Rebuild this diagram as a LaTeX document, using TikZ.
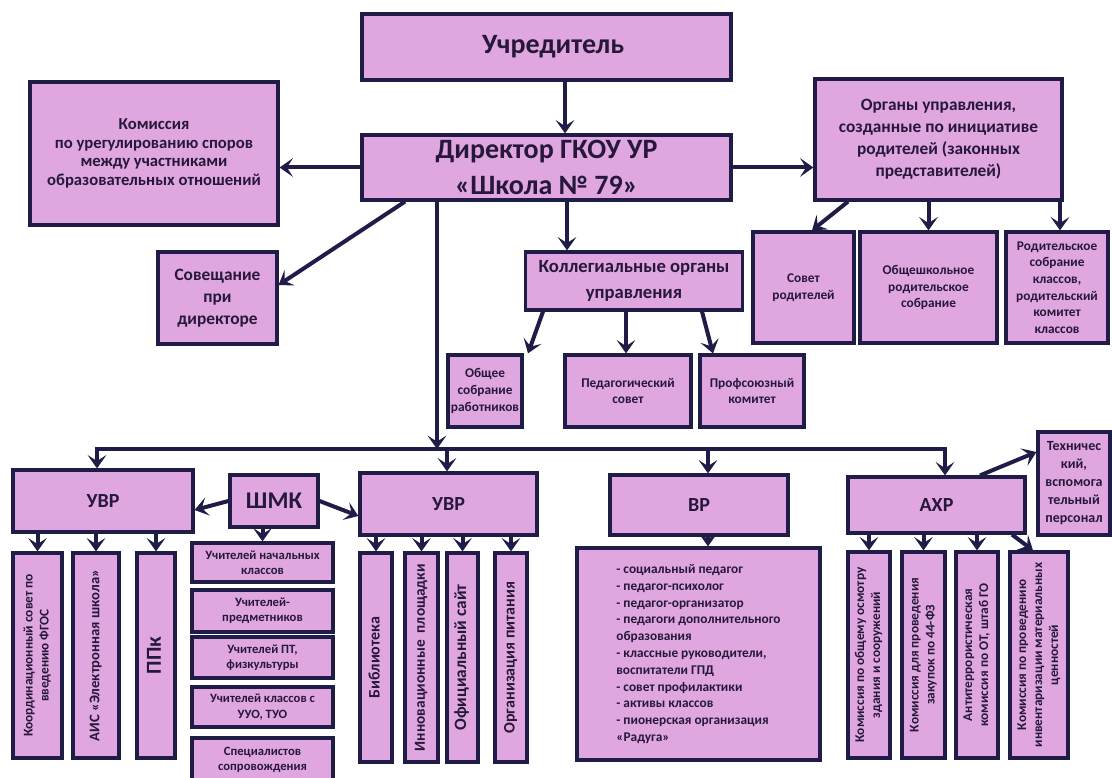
\documentclass[tikz,border=0pt]{standalone}
\usepackage{fontspec}
\setmainfont{Carlito}
\usepackage{tikz}
\usetikzlibrary{arrows.meta}
\definecolor{boxpink}{RGB}{224,166,224}
\definecolor{navy}{RGB}{32,28,72}
\definecolor{ink}{RGB}{38,24,58}

\newcommand{\fs}[2]{\fontsize{#1}{#2}\selectfont}
\newcommand{\vtext}[1]{\rotatebox{90}{\begin{tabular}{@{}c@{}}#1\end{tabular}}}

\tikzset{
  box/.style={draw=navy, fill=boxpink, line width=2.4pt, text=ink, align=center, inner sep=2pt},
  sz/.style 2 args={minimum width=#1*0.75pt, minimum height=#2*0.75pt},
  arr/.style={draw=navy, line width=3pt, -{Stealth[length=10pt,width=14pt,inset=4.5pt]}},
  txtbig/.style={font=\bfseries\fs{21}{27}},
  txthead/.style={font=\bfseries\fs{15}{19}},
  txtmid/.style={font=\bfseries\fs{13}{16.5}},
  txtsmall/.style={font=\bfseries\fs{10}{12.5}},
  txttiny/.style={font=\bfseries\fs{9.5}{11.5}},
  txtvert/.style={font=\bfseries\fs{10}{12}},
}

\begin{document}
\begin{tikzpicture}[x=0.75pt,y=-0.75pt]
  \fill[white] (0,0) rectangle (1112,777);
  \useasboundingbox (0,0) rectangle (1112,777);

  % top level
  \node[box, sz={369}{66}, txtbig] (uchr) at (546.5,47) {\hspace*{10pt}Учредитель};
  \node[box, sz={369}{65}, txtbig] (dir) at (546.5,167.5) {Директор ГКОУ УР\\«Школа № 79»};
  \node[box, sz={248}{143}, txtmid, font=\bfseries\fs{12.5}{13.8}] (kom) at (154,153.5)
    {Комиссия\\по урегулированию споров\\между участниками\\образовательных отношений};
  \node[box, sz={247}{121}, txtmid] (org) at (938.5,139.5)
    {Органы управления,\\созданные по инициативе\\родителей (законных\\представителей)};
  \node[box, sz={119}{92}, txtmid] (sov) at (217.5,298) {Совещание\\при\\директоре};
  \node[box, sz={217}{58}, txthead, font=\bfseries\fs{14}{19.5}] (koll) at (634,281) {Коллегиальные органы\\управления};

  % parents
  \node[box, sz={101}{111}, txtsmall] (sovr) at (803.5,287.5) {Совет\\родителей};
  \node[box, sz={137}{111}, txtsmall] (obsh) at (928.5,287.5) {Общешкольное\\родительское\\собрание};
  \node[box, sz={102}{111}, txtsmall] (rodk) at (1057,287.5)
    {Родительское\\собрание\\классов,\\родительский\\комитет\\классов};

  % collegial bodies
  \node[box, sz={74}{72}, txtsmall] (obs) at (485,391) {Общее\\собрание\\работников};
  \node[box, sz={126}{72}, txtsmall] (ped) at (628,391) {Педагогический\\совет};
  \node[box, sz={104}{72}, txtsmall] (prof) at (752,391) {Профсоюзный\\комитет};

  % departments
  \node[box, sz={180}{62}, txthead] (uvr1) at (103,501) {УВР};
  \node[box, sz={88}{52}, txthead, font=\bfseries\fs{18}{20}] (shmk) at (274,501) {ШМК};
  \node[box, sz={177}{62}, txthead] (uvr2) at (448.5,504) {УВР};
  \node[box, sz={178}{60}, txthead] (vr) at (699,505) {ВР};
  \node[box, sz={177}{56}, txthead] (axr) at (936.5,505) {АХР};
  \node[box, sz={72}{103}, txtsmall, font=\bfseries\fs{10.5}{13.5}] (tech) at (1074,483.5)
    {Техничес\\кий,\\вспомога\\тельный\\персонал};

  % УВР (left)
  \node[box, sz={49}{205}, txtvert] (koord) at (37.5,655.5) {\vtext{Координационный совет по\\введению ФГОС}};
  \node[box, sz={46}{205}, txtvert, font=\bfseries\fs{11}{13}] (ais) at (96,655.5) {\vtext{АИС «Электронная школа»}};
  \node[box, sz={38}{205}, font=\bfseries\fs{16}{18}] (ppk) at (156,655.5) {\vtext{ППк}};

  % ШМК
  \node[box, sz={141}{39}, txttiny] (sh1) at (262.5,562.5) {Учителей начальных\\классов};
  \node[box, sz={141}{42}, txttiny] (sh2) at (262.5,611) {Учителей-\\предметников};
  \node[box, sz={141}{41}, txttiny] (sh3) at (262.5,657.5) {Учителей ПТ,\\физкультуры};
  \node[box, sz={141}{40}, txttiny] (sh4) at (262.5,707) {Учителей классов с\\УУО, ТУО};
  \node[box, sz={141}{44}, txttiny] (sh5) at (262.5,760) {Специалистов\\сопровождения};

  % УВР (right)
  \node[box, sz={32}{209}, font=\bfseries\fs{12}{14}] (bib) at (376,657.5) {\vtext{Библиотека}};
  \node[box, sz={33}{209}, font=\bfseries\fs{11.5}{13}] (inn) at (421.5,657.5) {\vtext{Инновационные\ \ площадки}};
  \node[box, sz={31}{209}, font=\bfseries\fs{13}{14}] (ofic) at (462.5,657.5) {\vtext{Официальный сайт}};
  \node[box, sz={32}{209}, font=\bfseries\fs{12}{14}] (pit) at (511,657.5) {\vtext{Организация питания}};

  % ВР
  \node[box, sz={243}{212}, align=left, font=\bfseries\fs{10}{12.6}] (vrlist) at (698.5,654)
    {- социальный педагог\\- педагог-психолог\\- педагог-организатор\\- педагоги дополнительного\\образования\\- классные руководители,\\воспитатели ГПД\\- совет профилактики\\- активы классов\\- пионерская организация\\«Радуга»};

  % АХР
  \node[box, sz={42}{206}, txtvert] (ax1) at (869,655) {\vtext{Комиссия по общему осмотру\\здания и сооружений}};
  \node[box, sz={43}{206}, txtvert] (ax2) at (923.5,655) {\vtext{Комиссия для проведения\\закупок по 44-ФЗ}};
  \node[box, sz={42}{206}, txtvert] (ax3) at (977,655) {\vtext{Антитеррористическая\\комиссия по ОТ, штаб ГО}};
  \node[box, sz={58}{206}, txtvert] (ax4) at (1039,655) {\vtext{Комиссия по проведению\\инвентаризации материальных\\ценностей}};

  % bus
  \coordinate (b1) at (97,449);
  \coordinate (b2) at (447,449);
  \coordinate (b3) at (708,449);
  \coordinate (b4) at (945,449);
  \coordinate (bd) at (437,449);

  % arrows from the top
  \draw[arr] (uchr.south -| 565,0) -- (dir.north -| 565,0);
  \draw[arr] (dir.west) -- (kom.east |- dir.west);
  \draw[arr] (dir.east) -- (org.west |- dir.east);
  \draw[arr] (dir.south -| 405,0) -- (sov.east |- 0,285);
  \draw[arr] (dir.south -| 567,0) -- (koll.north -| 567,0);
  \draw[arr] (dir.south -| bd) -- (bd);

  \draw[arr] (koll.south -| 543,0) -- (obs.north -| 528,0);
  \draw[arr] (koll.south -| 626,0) -- (ped.north -| 626,0);
  \draw[arr] (koll.south -| 702,0) -- (prof.north -| 713,0);

  \draw[arr] (org.south -| 848,0) -- (sovr.north -| 812,0);
  \draw[arr] (org.south -| obsh) -- (obsh.north);
  \draw[arr] (org.south -| 1060,0) -- (rodk.north -| 1060,0);

  % bus and its branches
  \draw[arr] (b4) -- (b1) -- (uvr1.north -| b1);
  \draw[arr] (b1) -- (b4) -- (axr.north -| b4);
  \foreach \a/\b in {b2/uvr2, b3/vr}
    \draw[arr] (\a) -- (\b.north -| \a);

  \draw[arr] (shmk.west) -- (uvr1.east |- 0,510);
  \draw[arr] (shmk.east) -- (uvr2.west |- 0,516);
  \draw[arr] (axr.north -| 980,0) -- (tech.west |- 0,452);

  % children
  \foreach \n in {koord,ais,ppk}
    \draw[arr] (uvr1.south -| \n) -- (\n.north);
  \draw[arr] (shmk.south -| sh1) -- (sh1.north);
  \foreach \n in {bib,inn,ofic,pit}
    \draw[arr] (uvr2.south -| \n) -- (\n.north);
  \draw[arr] (vr.south -| b3) -- (vrlist.north -| b3);
  \foreach \n in {ax1,ax2,ax3}
    \draw[arr] (axr.south -| \n) -- (\n.north);
  \draw[arr] (axr.south -| 1012,0) -- (ax4.north -| 1033,0);
\end{tikzpicture}
\end{document}
